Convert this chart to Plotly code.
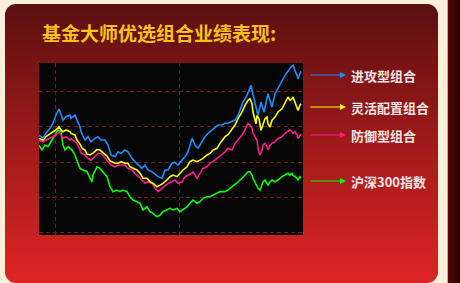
import base64
import plotly.graph_objects as go

# ---- data (cumulative return, %, trading-day index) ----
blue_day = [0, 4, 7, 11, 14, 17, 20, 22, 24, 27, 31, 32, 36, 38, 41, 42, 44, 46, 49, 52, 56, 59, 62, 66, 69, 72, 76, 79, 82, 86, 89, 93, 96, 99, 103, 106, 109, 113, 116, 119, 123, 126, 129, 133, 136, 139, 143, 146, 149, 153, 156, 159, 163, 166, 169, 173, 176, 179, 183, 186, 189, 193, 196, 199, 204, 208, 212, 215, 219, 222, 225, 229, 233, 236, 241, 246, 252, 254, 258, 259, 262]
blue_val = [15.3, 13.4, 16.3, 19.1, 22.0, 26.7, 30.1, 26.7, 23.8, 25.7, 26.7, 24.8, 26.7, 23.8, 20.0, 17.2, 14.4, 12.5, 14.4, 11.5, 13.4, 14.4, 12.5, 12.5, 9.6, 4.0, 3.0, 5.8, 4.9, 6.8, 5.8, 2.1, 0.2, -1.7, -3.6, -1.7, -4.5, -5.5, -7.0, -8.3, -9.2, -4.5, -4.5, -0.7, -0.2, -1.7, 1.1, 3.0, 5.8, 13.4, 9.6, 7.8, 11.5, 14.4, 16.3, 18.2, 20.0, 21.0, 21.0, 22.0, 22.0, 22.9, 23.8, 26.5, 34.0, 37.8, 43.5, 35.9, 26.5, 34.0, 28.4, 38.8, 31.2, 38.8, 44.4, 49.2, 53.9, 54.9, 49.2, 47.3, 51.5]

yellow_day = [0, 4, 7, 11, 14, 17, 20, 22, 24, 27, 31, 32, 36, 38, 41, 43, 46, 48, 51, 54, 58, 61, 65, 68, 71, 76, 79, 82, 86, 89, 91, 94, 98, 101, 104, 108, 111, 114, 118, 121, 124, 128, 131, 134, 138, 141, 144, 148, 151, 154, 158, 161, 164, 168, 171, 174, 178, 181, 184, 186, 189, 193, 196, 199, 203, 206, 209, 211, 213, 214, 216, 217, 218, 220, 222, 224, 226, 228, 229, 231, 233, 236, 239, 243, 246, 249, 251, 253, 254, 256, 258, 259, 261, 262]
yellow_val = [13.4, 12.5, 14.4, 16.3, 17.2, 18.2, 20.0, 18.2, 17.2, 18.2, 17.2, 16.3, 15.3, 12.5, 10.2, 7.9, 6.8, 4.5, 4.0, 5.1, 7.1, 6.8, 5.1, 3.4, 0.6, -0.7, -0.7, 0.2, -0.7, -0.7, -2.7, -3.6, -4.5, -6.4, -9.2, -9.2, -11.2, -12.1, -14.0, -13.1, -12.1, -10.2, -8.3, -7.4, -8.3, -6.4, -4.5, -2.7, 0.2, 1.1, 0.2, 1.1, 2.1, 4.0, 4.9, 6.8, 7.8, 10.6, 12.5, 14.4, 15.5, 18.5, 21.0, 24.6, 28.4, 32.2, 35.0, 35.9, 33.1, 28.4, 23.7, 21.7, 26.5, 24.6, 18.0, 21.7, 24.6, 25.5, 21.7, 19.9, 23.7, 25.5, 28.4, 30.2, 34.0, 36.9, 35.0, 35.9, 36.9, 34.0, 31.2, 29.3, 32.2, 33.1]

pink_day = [0, 4, 7, 11, 14, 17, 20, 22, 24, 27, 31, 32, 36, 38, 41, 42, 46, 49, 52, 56, 59, 62, 66, 69, 72, 76, 79, 82, 86, 89, 93, 96, 99, 103, 106, 109, 113, 116, 119, 123, 126, 129, 133, 136, 139, 143, 146, 149, 153, 154, 158, 161, 164, 168, 171, 174, 178, 181, 184, 186, 189, 193, 196, 199, 203, 206, 209, 211, 213, 214, 216, 218, 219, 221, 223, 224, 226, 228, 229, 231, 233, 236, 239, 243, 246, 249, 251, 253, 254, 256, 258, 259, 261, 262]
pink_val = [12.5, 11.5, 12.5, 13.4, 14.4, 15.3, 17.2, 15.3, 13.4, 14.4, 12.5, 13.4, 11.5, 10.6, 7.0, 5.0, 4.0, 2.0, 1.0, 3.0, 5.0, 5.0, 2.5, 0.2, -1.7, -2.7, -1.7, -1.7, -1.7, -3.6, -4.5, -6.4, -8.3, -10.2, -12.1, -11.2, -12.1, -14.9, -16.8, -14.9, -14.0, -12.1, -11.2, -10.2, -12.1, -11.2, -8.3, -7.4, -6.4, -5.5, -9.2, -6.4, -3.6, -2.7, -0.7, 0.2, 2.1, 3.0, 4.9, 5.8, 7.8, 6.8, 10.6, 12.5, 15.3, 18.2, 22.0, 21.0, 19.1, 16.3, 14.4, 12.5, 7.8, 4.0, 6.8, 9.6, 10.6, 8.7, 6.8, 9.6, 10.6, 11.5, 13.4, 14.4, 16.3, 17.2, 18.2, 17.2, 16.3, 17.2, 15.3, 13.4, 15.3, 15.9]

green_day = [0, 3, 6, 9, 13, 16, 19, 22, 24, 26, 29, 33, 36, 39, 41, 44, 48, 51, 53, 54, 58, 61, 64, 68, 71, 74, 78, 81, 84, 88, 91, 94, 98, 101, 104, 108, 111, 114, 118, 121, 124, 128, 131, 134, 138, 141, 144, 148, 151, 154, 158, 161, 164, 168, 171, 174, 178, 181, 184, 186, 189, 193, 196, 199, 203, 206, 209, 211, 213, 214, 216, 218, 219, 221, 223, 224, 226, 228, 229, 231, 233, 236, 239, 243, 246, 249, 251, 253, 254, 256, 258, 259, 261, 262]
green_val = [9.6, 6.8, 9.6, 8.7, 12.5, 15.3, 18.2, 17.2, 9.6, 6.8, 8.7, 6.8, 4.0, -0.7, -3.6, -4.5, -5.5, -9.2, -11.2, -7.4, -2.7, -3.6, -5.5, -8.3, -14.0, -16.8, -15.9, -16.8, -15.9, -16.8, -19.7, -21.6, -22.5, -23.4, -27.2, -25.4, -28.2, -29.1, -31.0, -30.1, -28.2, -27.2, -26.3, -27.2, -26.3, -28.2, -27.2, -25.4, -23.4, -21.6, -23.4, -22.5, -20.6, -19.7, -19.7, -18.7, -17.8, -16.8, -16.8, -16.8, -15.9, -14.0, -13.1, -11.2, -9.2, -7.4, -5.5, -5.5, -7.4, -9.2, -11.2, -13.1, -14.9, -15.9, -13.1, -11.2, -10.2, -12.1, -13.1, -11.2, -10.2, -11.2, -10.2, -8.3, -7.4, -6.4, -7.4, -6.4, -7.4, -8.3, -9.2, -10.2, -8.3, -9.2]

series_names = ["进攻型组合", "灵活配置组合", "防御型组合", "沪深300指数"]
series_colors = ["#1e8fff", "#ffff00", "#ff1a8c", "#00ff00"]
title_text = "基金大师优选组合业绩表现:"

W, H = 460, 283
L, T, R, B = 39, 63, 303, 235  # plot box in px
pw, ph = R - L, B - T

svg = f"""<svg xmlns='http://www.w3.org/2000/svg' width='{W}' height='{H}' viewBox='0 0 {W} {H}'>
<defs>
<linearGradient id='g' x1='0' y1='0' x2='0' y2='1'>
<stop offset='0' stop-color='#5a0f0f'/><stop offset='0.5' stop-color='#a01a1a'/><stop offset='1' stop-color='#de2424'/>
</linearGradient>
<linearGradient id='s' x1='0' y1='0' x2='1' y2='0'>
<stop offset='0' stop-color='#520808'/><stop offset='1' stop-color='#2a0000'/>
</linearGradient>
</defs>
<rect width='{W}' height='{H}' fill='#fdefd9'/>
<rect x='5' y='4' width='433' height='279' rx='11' ry='11' fill='url(#g)'/>
<rect x='447' y='0' width='1' height='{H}' fill='#c9a98e'/>
<rect x='448' y='0' width='12' height='{H}' fill='url(#s)'/>
<rect x='{L}' y='{T}' width='{pw}' height='{ph}' fill='#050505'/>
</svg>"""
uri = "data:image/svg+xml;base64," + base64.b64encode(svg.encode()).decode()

fig = go.Figure()
for d, v, c, n in [(green_day, green_val, series_colors[3], series_names[3]),
                   (pink_day, pink_val, series_colors[2], series_names[2]),
                   (yellow_day, yellow_val, series_colors[1], series_names[1]),
                   (blue_day, blue_val, series_colors[0], series_names[0])]:
    fig.add_trace(go.Scatter(x=d, y=v, mode="lines", name=n,
                             line=dict(color=c, width=1.6), hoverinfo="skip"))

def px_x(x):
    return (x - L) / pw

def px_y(y):
    return (B - y) / ph

fig.add_layout_image(dict(source=uri, xref="paper", yref="paper",
                          x=px_x(0), y=px_y(0), sizex=W / pw, sizey=H / ph,
                          xanchor="left", yanchor="top", sizing="stretch", layer="below"))

ann = [dict(text=f"<b>{title_text}</b>", x=px_x(40), y=px_y(32.5), xref="paper", yref="paper",
            xanchor="left", yanchor="middle", showarrow=False,
            font=dict(family="Noto Sans CJK SC", size=19, color="#f7c318"))]
legend_y = [75, 107, 135, 181]
for n, c, yy in zip(series_names, series_colors, legend_y):
    ann.append(dict(text="", x=px_x(346), y=px_y(yy), xref="paper", yref="paper",
                    showarrow=True, ax=-37, ay=0, arrowhead=2, arrowsize=1,
                    arrowwidth=1.2, arrowcolor=c, standoff=0))
    ann.append(dict(text=f"<b>{n}</b>", x=px_x(349), y=px_y(yy), xref="paper", yref="paper",
                    xanchor="left", yanchor="middle", showarrow=False,
                    font=dict(family="Noto Sans CJK SC", size=13, color="#f6e4e4")))

fig.update_layout(
    width=W, height=H, autosize=False,
    margin=dict(l=L, r=W - R, t=T, b=H - B, pad=0),
    paper_bgcolor="#fdefd9", plot_bgcolor="rgba(0,0,0,0)",
    showlegend=False, annotations=ann,
    xaxis=dict(range=[0, 264], tickvals=[16, 140], showticklabels=False, ticks="",
               showgrid=True, gridcolor="#6a1e1e", gridwidth=1, griddash="4px,3px",
               zeroline=False, showline=False, fixedrange=True),
    yaxis=dict(range=[-41.4, 56.2], tickvals=[-40, -20, 0, 20, 40], showticklabels=False, ticks="",
               showgrid=True, gridcolor="#6a1e1e", gridwidth=1, griddash="4px,3px",
               zeroline=False, showline=False, fixedrange=True),
)

fig.write_html("out.html", config={"displayModeBar": False})
